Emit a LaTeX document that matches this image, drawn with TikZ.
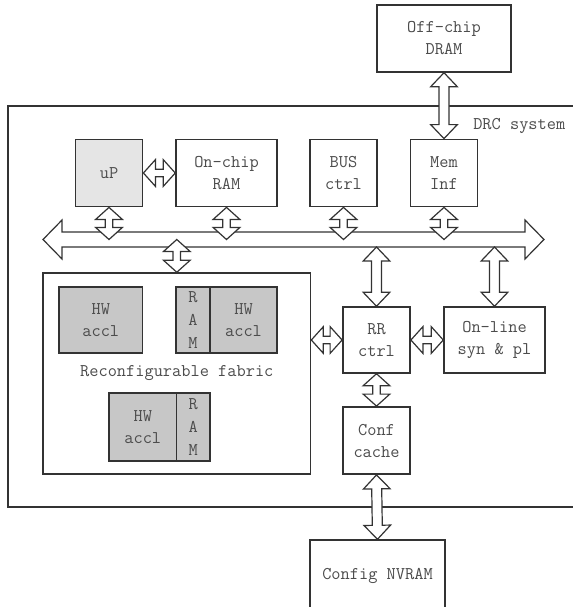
\documentclass[tikz,border=0pt]{standalone}
\usepackage{tikz}
\usetikzlibrary{calc}
\definecolor{upgray}{gray}{0.9}
\definecolor{hwgray}{gray}{0.78}
% hollow double arrow: from, to, head length, head half width, shaft half width
\newcommand{\fatarrow}[5]{%
    \filldraw[fat arrow] let \p1=(#1), \p2=(#2), \n1={atan2(\y2-\y1,\x2-\x1)} in
        (\p1) -- ($(\p1)+(\n1:#3)+(\n1+90:#4)$) -- ($(\p1)+(\n1:#3)+(\n1+90:#5)$)
        -- ($(\p2)+(\n1+180:#3)+(\n1+90:#5)$) -- ($(\p2)+(\n1+180:#3)+(\n1+90:#4)$)
        -- (\p2) -- ($(\p2)+(\n1+180:#3)+(\n1-90:#4)$) -- ($(\p2)+(\n1+180:#3)+(\n1-90:#5)$)
        -- ($(\p1)+(\n1:#3)+(\n1-90:#5)$) -- ($(\p1)+(\n1:#3)+(\n1-90:#4)$) -- cycle;
}
\newcommand{\smallarrow}[2]{\fatarrow{#1}{#2}{9pt}{10pt}{2.8pt}}
\newcommand{\longarrow}[2]{\fatarrow{#1}{#2}{10.5pt}{10pt}{3.75pt}}
\newcommand{\busarrow}[2]{\fatarrow{#1}{#2}{14.25pt}{14.6pt}{5.6pt}}

\begin{document}
\begin{tikzpicture}[x=0.75pt, y=-0.75pt,
    every node/.style={font=\fontsize{13.4}{16.5}\selectfont\ttfamily, text=black!70},
    frame/.style={draw=black!80, line width=1.1pt},
    box/.style={draw=black!80, line width=1.1pt, fill=white, align=center, inner sep=0pt},
    unit/.style={box, minimum width=50.5pt, minimum height=50.5pt},
    wide/.style={box, minimum width=75.75pt, minimum height=50.5pt},
    accl/.style={box, fill=hwgray, minimum height=49.5pt},
    strip/.style={accl, minimum width=25.3pt, font=\fontsize{13.4}{17.25}\selectfont\ttfamily},
    fat arrow/.style={draw=black!80, line width=0.9pt, fill=white}]
    \useasboundingbox (0,0) rectangle (573,607);

    % DRC system frame
    \draw[frame] (600,106) -- (8,106) -- (8,507) -- (600,507);
    \node[anchor=east] (drcLabel) at (570,126) {DRC system};

    % Top row
    \node[box, minimum width=100.5pt, minimum height=50.25pt] (dram) at (444,38.5) {Off-chip\\DRAM};
    \node[unit, fill=upgray] (uP) at (109,173) {uP};
    \node[wide] (ram) at (226.5,173) {On-chip\\RAM};
    \node[unit] (busCtrl) at (343.5,173) {BUS\\ctrl};
    \node[unit] (mem) at (444,173) {Mem\\Inf};

    % Reconfigurable fabric
    \node[box, minimum width=200.7pt, minimum height=150.75pt] (fabric) at (176.8,373.5) {Reconfigurable fabric};
    \node[accl, minimum width=62.6pt] (hwA) at (100.75,320) {HW\\accl};
    \node[strip] (ramB) at (193,320) {R\\A\\M};
    \node[accl, minimum width=50.25pt] (hwB) at (243.5,320) {HW\\accl};
    \node[accl, minimum width=50.6pt, minimum height=51pt] (hwC) at (142.75,427) {HW\\accl};
    \node[strip, minimum height=51pt] (ramC) at (193.25,427) {R\\A\\M};

    % Right column
    \node[unit, minimum height=49.5pt] (rr) at (376.5,340) {RR\\ctrl};
    \node[wide, minimum height=49.5pt] (online) at (494.5,340) {On-line\\syn \& pl};
    \node[unit] (conf) at (376.5,440.5) {Conf\\cache};
    \node[box, minimum width=101.25pt, minimum height=54pt] (nvram) at (377.5,576) {Config NVRAM};

    % System bus
    \coordinate (busW) at (43,239.5);
    \coordinate (busE) at (544,239.5);
    \coordinate (busBot) at (0,247);
    \busarrow{busW}{busE}

    % Links
    \smallarrow{uP.south}{uP.south |- busW}
    \smallarrow{ram.south}{ram.south |- busW}
    \smallarrow{busCtrl.south}{busCtrl.south |- busW}
    \smallarrow{mem.south}{mem.south |- busW}
    \smallarrow{fabric.north |- busW}{fabric.north}
    \longarrow{rr.north |- busBot}{rr.north}
    \longarrow{online.north |- busBot}{online.north}
    \longarrow{dram.south}{mem.north}
    \smallarrow{uP.east}{ram.west}
    \smallarrow{fabric.east |- rr.west}{rr.west}
    \smallarrow{rr.east}{online.west}
    \smallarrow{rr.south}{conf.north}
    \longarrow{conf.south}{nvram.north}
\end{tikzpicture}
\end{document}
